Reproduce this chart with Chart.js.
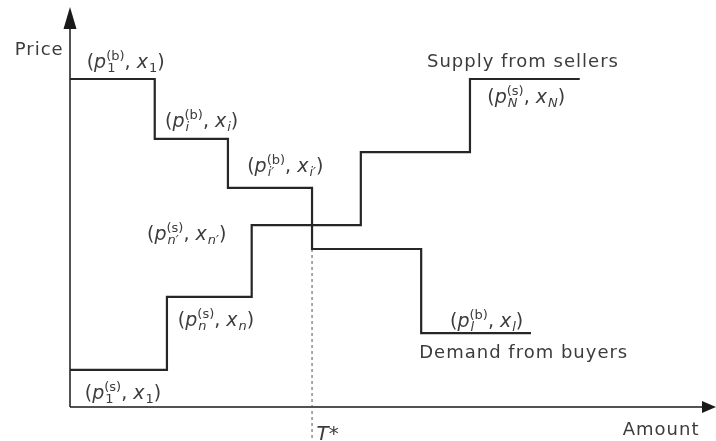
<!DOCTYPE html>
<html>
<head>
<meta charset="utf-8">
<script src="https://cdn.jsdelivr.net/npm/chart.js@4.4.1/dist/chart.umd.min.js"></script>
<style>
  html, body { margin: 0; padding: 0; background: #fff; }
</style>
</head>
<body>
<canvas id="mygraph" width="716" height="441"></canvas>
<script>
// step curves: quantity breakpoints and price levels (axis 0..100 on both)
const demandBreaks = [0, 13.2, 24.6, 37.7, 54.7, 71.8];
const demandPrices = [82.2, 67.2, 54.9, 39.6, 18.5];
const supplyBreaks = [0, 15.1, 28.3, 45.3, 62.3, 79.4];
const supplyPrices = [9.3, 27.6, 45.6, 63.9, 82.2];
const tStar = 37.7;
const tStarPrice = 39.6;

const FONT = '"DejaVu Sans", sans-serif';
const TXT = '#3c3c3c';

function steps(breaks, prices) {
  const pts = prices.map((p, i) => ({x: breaks[i], y: p}));
  pts.push({x: breaks[breaks.length - 1], y: prices[prices.length - 1]});
  return pts;
}

// labels in data units
const plainLabels = [
  {text: 'Price', x: -8.6, y: 88.2},
  {text: 'Supply from sellers', x: 55.6, y: 85.2},
  {text: 'Demand from buyers', x: 54.4, y: 12.3},
  {text: 'Amount', x: 86.1, y: -7.0}
];

function pLabel(sup, sub, xsub) {
  return [
    {t: '('}, {t: 'p', it: true}, {sup: sup, sub: sub},
    {t: ', '}, {t: 'x', it: true}, {sub: xsub || sub}, {t: ')'}
  ];
}
const mathLabels = [
  {x: 2.6, y: 85.0, parts: pLabel('(b)', '1')},
  {x: 14.8, y: 70.2, parts: pLabel('(b)', 'i')},
  {x: 27.6, y: 58.9, parts: pLabel('(b)', 'i\u2032')},
  {x: 12.0, y: 41.9, parts: pLabel('(s)', 'n\u2032')},
  {x: 16.8, y: 20.3, parts: pLabel('(s)', 'n')},
  {x: 2.3, y: 2.0, parts: pLabel('(s)', '1')},
  {x: 65.0, y: 76.2, parts: pLabel('(s)', 'N')},
  {x: 59.2, y: 20.1, parts: pLabel('(b)', 'l')},
  {x: 38.4, y: -8.3, parts: [{t: 'T', it: true, size: 20}, {t: '*', size: 20}]}
];

function drawMath(ctx, x, y, parts) {
  let cx = x;
  for (const p of parts) {
    if (p.t !== undefined) {
      ctx.font = (p.it ? 'italic ' : '') + (p.size || 19) + 'px ' + FONT;
      ctx.fillText(p.t, cx, y);
      cx += ctx.measureText(p.t).width;
    } else {
      let w = 0;
      if (p.sup) {
        ctx.font = '13px ' + FONT;
        ctx.fillText(p.sup, cx, y - 8);
        w = ctx.measureText(p.sup).width;
      }
      if (p.sub) {
        const it = /[a-zA-Z]/.test(p.sub);
        ctx.font = (it ? 'italic ' : '') + '13px ' + FONT;
        ctx.fillText(p.sub, cx + 1, y + 4);
        w = Math.max(w, ctx.measureText(p.sub).width + 1);
      }
      cx += w;
    }
  }
}

const axesPlugin = {
  id: 'axes',
  beforeDatasetsDraw(chart) {
    const {ctx, scales: {x, y}} = chart;
    const x0 = x.getPixelForValue(0), y0 = y.getPixelForValue(0);
    const yTop = y.getPixelForValue(100), xEnd = x.getPixelForValue(100);
    ctx.save();
    ctx.strokeStyle = '#1a1a1a';
    ctx.fillStyle = '#1a1a1a';
    ctx.lineWidth = 1.5;
    ctx.beginPath();
    ctx.moveTo(x0, y0);
    ctx.lineTo(x0, yTop + 10);
    ctx.moveTo(x0, y0);
    ctx.lineTo(xEnd - 4, y0);
    ctx.stroke();
    // arrow heads
    ctx.beginPath();
    ctx.moveTo(x0, yTop - 1);
    ctx.lineTo(x0 - 6.5, yTop + 21);
    ctx.lineTo(x0 + 6.5, yTop + 21);
    ctx.closePath();
    ctx.fill();
    ctx.beginPath();
    ctx.moveTo(xEnd + 4, y0);
    ctx.lineTo(xEnd - 10, y0 - 6);
    ctx.lineTo(xEnd - 10, y0 + 6);
    ctx.closePath();
    ctx.fill();
    ctx.restore();
  },
  afterDatasetsDraw(chart) {
    const {ctx, scales: {x, y}} = chart;
    ctx.save();
    ctx.fillStyle = TXT;
    ctx.textBaseline = 'alphabetic';
    ctx.textAlign = 'left';
    ctx.letterSpacing = '1px';
    ctx.font = '18px ' + FONT;
    plainLabels.forEach(l => {
      ctx.fillText(l.text, x.getPixelForValue(l.x), y.getPixelForValue(l.y));
    });
    ctx.letterSpacing = '0px';
    mathLabels.forEach(l => {
      drawMath(ctx, x.getPixelForValue(l.x), y.getPixelForValue(l.y), l.parts);
    });
    ctx.restore();
  }
};

const data = {
  datasets: [
    {
      label: 'Demand from buyers',
      data: steps(demandBreaks, demandPrices),
      stepped: 'before',
      borderColor: '#262626',
      borderWidth: 2.2,
      pointRadius: 0,
      fill: false
    },
    {
      label: 'Supply from sellers',
      data: steps(supplyBreaks, supplyPrices),
      stepped: 'before',
      borderColor: '#262626',
      borderWidth: 2.2,
      pointRadius: 0,
      fill: false
    },
    {
      label: 'T*',
      data: [{x: tStar, y: tStarPrice}, {x: tStar, y: -7.8}],
      borderColor: '#555',
      borderWidth: 1,
      borderDash: [3, 3],
      pointRadius: 0,
      clip: false,
      fill: false
    }
  ]
};

const config = {
  type: 'line',
  data,
  options: {
    responsive: false,
    animation: false,
    devicePixelRatio: 1,
    layout: {padding: {left: 70, right: 4, top: 8, bottom: 34}},
    scales: {
      x: {type: 'linear', min: 0, max: 100, display: false},
      y: {type: 'linear', min: 0, max: 100, display: false}
    },
    plugins: {legend: {display: false}, tooltip: {enabled: false}}
  },
  plugins: [axesPlugin]
};

const mygraph = new Chart(document.getElementById('mygraph'), config);
</script>
</body>
</html>
